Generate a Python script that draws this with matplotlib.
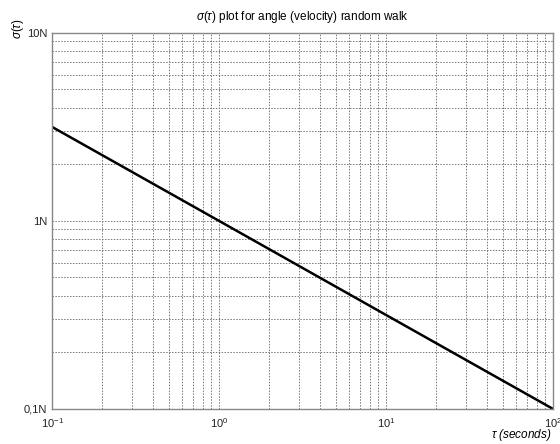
import matplotlib
matplotlib.use('Agg')
import matplotlib.pyplot as plt
from matplotlib.ticker import FixedLocator, LogLocator, NullFormatter

plt.rcParams['font.family'] = ['Liberation Sans', 'DejaVu Sans']
plt.rcParams['mathtext.fontset'] = 'custom'
plt.rcParams['mathtext.rm'] = 'Liberation Sans'
plt.rcParams['mathtext.it'] = 'Liberation Sans:italic'
plt.rcParams['mathtext.default'] = 'regular'

# sigma(tau) = N / sqrt(tau)
tau = [0.1, 1, 10, 100]
sigma = [3.16, 1.0, 0.316, 0.1]
ytick_vals = [0.1, 1, 10]
ytick_labels = ['0,1N', '1N', '10N']
xtick_vals = [0.1, 1, 10, 100]
xtick_labels = ['$10^{-1}$', '$10^{0}$', '$10^{1}$', '$10^{2}$']

fig = plt.figure(figsize=(5.6, 4.44), dpi=100)
ax = fig.add_axes([0.093, 0.079, 0.8945, 0.847])

ax.loglog(tau, sigma, color='black', lw=1.8)
ax.set_xlim(0.1, 100)
ax.set_ylim(0.1, 10)

ax.xaxis.set_major_locator(FixedLocator(xtick_vals))
ax.set_xticklabels(xtick_labels)
ax.yaxis.set_major_locator(FixedLocator(ytick_vals))
ax.set_yticklabels(ytick_labels)
ax.xaxis.set_minor_locator(LogLocator(base=10, subs=range(2, 10)))
ax.yaxis.set_minor_locator(LogLocator(base=10, subs=range(2, 10)))
ax.xaxis.set_minor_formatter(NullFormatter())
ax.yaxis.set_minor_formatter(NullFormatter())

ax.grid(True, which='both', linestyle=(0, (1.5, 1.5)), color='#777777', lw=0.7)
ax.tick_params(which='both', direction='in', length=0, labelsize=8, colors='#222222')
ax.tick_params(axis='x', pad=5)
for s in ax.spines.values():
    s.set_color('#888888')
    s.set_linewidth(1.0)

ax.set_title(r'$\mathit{\sigma(\tau)}$ plot for angle (velocity) random walk',
             fontsize=8.5, pad=9)
fig.text(0.985, 0.002, r'$\mathit{\tau}$ (seconds)', ha='right', va='bottom',
         fontsize=8.5, style='italic')
fig.text(0.018, 0.935, r'$\mathit{\sigma(\tau)}$', rotation=90, ha='left', va='center',
         fontsize=8.5)

fig.savefig('out.png', dpi=100)
